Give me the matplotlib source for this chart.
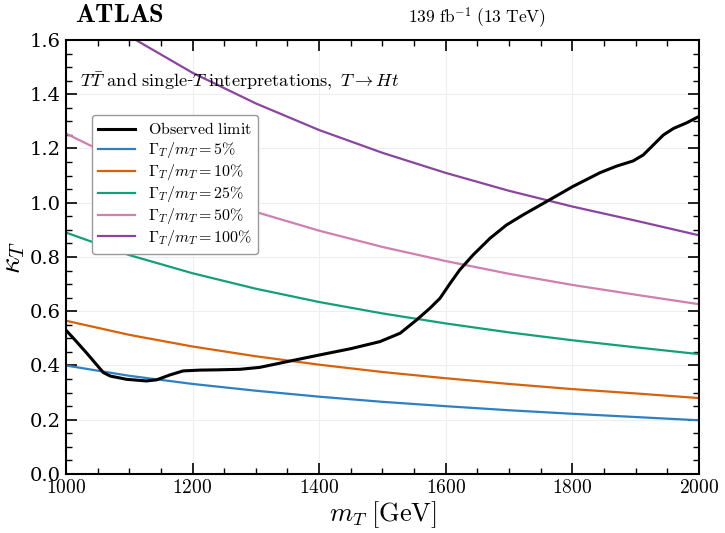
import numpy as np
import matplotlib
matplotlib.use('Agg')
import matplotlib.pyplot as plt
from matplotlib.ticker import MultipleLocator

plt.rcParams['font.family'] = 'serif'
plt.rcParams['font.serif'] = ['DejaVu Serif']
plt.rcParams['mathtext.fontset'] = 'cm'

# width curves (kappa_T vs m_T)
mass = [1000, 1100, 1200, 1300, 1400, 1500, 1600, 1700, 1800, 1900, 2000]
w5 = [0.40, 0.362, 0.332, 0.307, 0.285, 0.266, 0.250, 0.235, 0.222, 0.210, 0.198]
w10 = [0.565, 0.513, 0.470, 0.434, 0.403, 0.376, 0.353, 0.332, 0.313, 0.297, 0.280]
w25 = [0.89, 0.807, 0.740, 0.683, 0.634, 0.592, 0.555, 0.522, 0.493, 0.467, 0.442]
w50 = [1.255, 1.141, 1.046, 0.966, 0.897, 0.837, 0.785, 0.738, 0.697, 0.661, 0.626]
w100 = [1.775, 1.614, 1.479, 1.366, 1.268, 1.184, 1.110, 1.044, 0.986, 0.934, 0.880]

# observed limit
obs_m = [1000, 1012, 1033, 1059, 1070, 1096, 1127, 1143, 1164, 1185, 1212, 1240,
         1275, 1306, 1349, 1401, 1450, 1496, 1528, 1554, 1575, 1591, 1607, 1622,
         1643, 1670, 1696, 1722, 1759, 1801, 1844, 1870, 1896, 1912, 1928, 1944,
         1960, 1981, 2000]
obs_k = [0.53, 0.50, 0.445, 0.374, 0.361, 0.349, 0.343, 0.347, 0.365, 0.38, 0.383, 0.384,
         0.386, 0.393, 0.414, 0.439, 0.462, 0.488, 0.519, 0.568, 0.611, 0.648, 0.703, 0.752,
         0.807, 0.869, 0.918, 0.955, 1.004, 1.06, 1.111, 1.135, 1.154, 1.176, 1.213, 1.25,
         1.274, 1.295, 1.318]

widths = [w5, w10, w25, w50, w100]
wlabels = ['5', '10', '25', '50', '100']
colors = ['#2f80c0', '#d8620a', '#12a07a', '#cf7fb0', '#8a45a0']

fig = plt.figure(figsize=(7.25, 5.33), dpi=100)
ax = fig.add_axes([0.091, 0.1107, 0.873, 0.8143])

ax.plot(obs_m, obs_k, color='k', lw=2.2, label=r'$\mathrm{Observed\ limit}$', zorder=5,
        solid_joinstyle='round')
for w, lab, c in zip(widths, wlabels, colors):
    ax.plot(mass, w, color=c, lw=1.6, label=r'$\Gamma_T/m_T = %s\%%$' % lab)

ax.set_xlim(1000, 2000)
ax.set_ylim(0, 1.6)
ax.xaxis.set_major_locator(MultipleLocator(200))
ax.xaxis.set_minor_locator(MultipleLocator(50))
ax.yaxis.set_major_locator(MultipleLocator(0.2))
ax.yaxis.set_minor_locator(MultipleLocator(0.05))
ax.set_xticks(np.arange(1000, 2001, 200))
ax.set_xticklabels([r'$%d$' % v for v in range(1000, 2001, 200)])
ax.tick_params(which='both', direction='in', top=True, right=True)
ax.tick_params(which='major', length=8, width=1.2, labelsize=14)
ax.tick_params(which='minor', length=4, width=1.0)
for s in ax.spines.values():
    s.set_linewidth(1.5)
ax.grid(True, which='major', color='#eeeeee', lw=0.8)

ax.set_xlabel(r'$m_T\;[\mathrm{GeV}]$', fontsize=19, labelpad=2)
ax.set_ylabel(r'$\kappa_T$', fontsize=21, labelpad=2)

ax.text(0.022, 0.905, r'$T\bar{T}\ \mathrm{and\ single}$-$T\ \mathrm{interpretations},\ T \rightarrow Ht$',
        transform=ax.transAxes, fontsize=13.2, va='center', ha='left')
fig.text(0.103, 0.972, r'$\mathbf{ATLAS}$', fontsize=19, va='center', ha='left')
fig.text(0.563, 0.968, r'$139\ \mathrm{fb}^{-1}\ (13\ \mathrm{TeV})$', fontsize=12.5, va='center', ha='left')

ax.legend(loc='upper left', bbox_to_anchor=(0.041, 0.827), borderaxespad=0, fontsize=11.5,
          frameon=True, edgecolor='#999999', framealpha=1.0, handlelength=2.3,
          labelspacing=0.12, borderpad=0.4)

fig.savefig('out.png', dpi=100)
